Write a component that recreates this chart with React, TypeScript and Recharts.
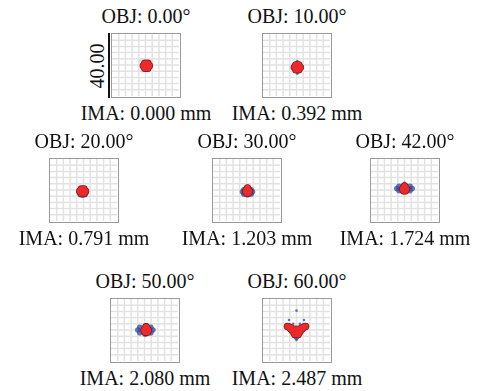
import { ReferenceLine, Scatter, ScatterChart, XAxis, YAxis } from 'recharts'

// field labels
const fieldAngles = ['0.00', '10.00', '20.00', '30.00', '42.00', '50.00', '60.00']
const imageHeights = ['0.000', '0.392', '0.791', '1.203', '1.724', '2.080', '2.487']
const scaleBar = '40.00'

// grid ticks in microns (box is 40 um wide)
const gridTicks = [-16, -12, -8, -4, 0, 4, 8, 12, 16]

// ray intercepts, [x, y] in microns
const redRays = [
  [[0.5, -0.5], [2.3, -0.5], [1.4, 1.1], [-0.4, 1.1], [-1.3, -0.5], [-0.4, -2.1], [1.4, -2.1]],
  [[0.5, -1.5], [2.3, -1.5], [1.4, 0.1], [-0.4, 0.1], [-1.3, -1.5], [-0.4, -3.1], [1.4, -3.1]],
  [[-0.5, -0.8], [1.2, -0.8], [0.3, 0.7], [-1.3, 0.7], [-2.2, -0.8], [-1.3, -2.3], [0.3, -2.3]],
  [[0.6, -1], [1.7, -1], [1.2, 0], [0, 0], [-0.5, -1], [0, -2], [1.2, -2], [0.6, 1.4]],
  [[0, 0.5], [1.1, 0.5], [0.6, 1.5], [-0.6, 1.5], [-1.1, 0.5], [-0.6, -0.5], [0.6, -0.5], [0, 2.6]],
  [[1, -0.3], [2.3, -0.3], [1.7, 0.9], [0.3, 0.9], [-0.3, -0.3], [0.3, -1.5], [1.7, -1.5], [1, 2.1]],
  [
    [0, -1.2], [2, -1.2], [1, 0.5], [-1, 0.5], [-2, -1.2], [-1, -2.9], [1, -2.9],
    [-5.4, 2.3], [-4.4, 1.9], [-3.4, 1.4], [-2.6, 0.6], [-3.4, 0.6],
    [5.4, 2.3], [4.4, 1.9], [3.4, 1.4], [2.6, 0.6], [3.4, 0.6],
  ],
]

const blueRays = [
  [],
  [[0.5, -1.5], [2.6, -1.5], [-1.6, -1.5], [0.5, 0.6], [0.5, -3.6]],
  [[-0.5, -1.6], [1.5, -1.6], [-2.5, -1.6], [-0.5, 0.2], [-0.5, -3.3], [0.9, -2.9], [-1.9, -2.9]],
  [[-2.4, -1.2], [3.6, -1.2], [-1.6, 0.2], [2.8, 0.2], [-1.6, -2.6], [2.8, -2.6], [0.6, 0.6], [0.6, -3], [0.6, -1.2]],
  [[-4.6, 1], [4.6, 1], [-3.3, 2.4], [3.3, 2.4], [-3.3, -0.4], [3.3, -0.4], [0, 3], [0, -1], [-1.5, 1], [1.5, 1], [0, 1]],
  [[-4, 0], [5, 0], [0.5, 2.6], [0.5, -2.8], [-2.8, 1.8], [3.8, 1.8], [-2.8, -1.8], [3.8, -1.8], [0.5, 0]],
  [[0, -1.2], [2.4, -1.2], [-2.4, -1.2], [1.2, 0.8], [-1.2, 0.8], [1.2, -3.2], [-1.2, -3.2], [0, -4.6]],
]

const blueSpecks = [
  [[-3, 3], [3.5, 2.5], [-2, -4]],
  [[0.5, 2.6], [0.5, -5.6]],
  [],
  [[0.6, 2.5]],
  [[0, 4.6]],
  [[1, 3.2]],
  [[0, 12.5], [-4.5, 6.5], [4.5, 6.5], [-2, 4], [2, 4], [0, -6.4]],
]

// box top-left positions on the page
const boxes = [
  [111, 33], [262, 33],
  [49, 158], [212, 158], [370, 158],
  [110, 298], [262, 298],
]

const W = 70
const H = 65
const font = '"Liberation Serif", "Times New Roman", serif'

const toPts = (a: number[][]) => a.map(([x, y]) => ({ x, y }))

function dot(r: number, fill: string, opacity = 1) {
  return (p: any) => <circle cx={p.cx} cy={p.cy} r={r} fill={fill} fillOpacity={opacity} />
}

function Spot({ i }: { i: number }) {
  const [left, top] = boxes[i]
  const faint = i === 0
  return (
    <>
      <div
        style={{
          position: 'absolute',
          left: left + W / 2 - 100,
          top: top - 27,
          width: 200,
          textAlign: 'center',
          fontSize: 20,
          lineHeight: '20px',
        }}
      >
        OBJ: {fieldAngles[i]}°
      </div>
      <div
        style={{
          position: 'absolute',
          left,
          top,
          width: W,
          height: H,
          boxSizing: 'border-box',
          border: '1.5px solid #9a9a9a',
          background: '#fff',
        }}
      >
        <ScatterChart
          width={W - 3}
          height={H - 3}
          margin={{ top: 0, right: 0, bottom: 0, left: 0 }}
        >
          <XAxis type="number" dataKey="x" domain={[-20, 20]} hide />
          <YAxis type="number" dataKey="y" domain={[-20, 20]} hide />
          {gridTicks.map((t) => (
            <ReferenceLine key={'x' + t} x={t} stroke="#e2e2e2" strokeWidth={1.5} />
          ))}
          {gridTicks.map((t) => (
            <ReferenceLine key={'y' + t} y={t} stroke="#e2e2e2" strokeWidth={1.5} />
          ))}
          <Scatter
            data={toPts(blueSpecks[i])}
            isAnimationActive={false}
            shape={dot(faint ? 1.2 : 1.3, faint ? '#f0b0b8' : '#3a55b8', faint ? 0.6 : 0.8)}
          />
          <Scatter
            data={toPts(blueRays[i])}
            isAnimationActive={false}
            shape={dot(2.8, '#2d47a6', 0.75)}
          />
          <Scatter
            data={toPts(redRays[i])}
            isAnimationActive={false}
            shape={dot(3.7, '#6e1a1a')}
          />
          <Scatter
            data={toPts(redRays[i])}
            isAnimationActive={false}
            shape={dot(3, '#ec2a2a')}
          />
        </ScatterChart>
      </div>
      <div
        style={{
          position: 'absolute',
          left: left + W / 2 - 100,
          top: top + H + 5,
          width: 200,
          textAlign: 'center',
          fontSize: 20,
          lineHeight: '20px',
        }}
      >
        IMA: {imageHeights[i]} mm
      </div>
    </>
  )
}

export default function App() {
  const [l0, t0] = boxes[0]
  return (
    <div
      style={{
        position: 'fixed',
        left: 0,
        top: 0,
        width: 480,
        height: 391,
        background: '#fff',
        color: '#111',
        fontFamily: font,
      }}
    >
      {boxes.map((_, i) => (
        <Spot key={i} i={i} />
      ))}
      <div
        style={{
          position: 'absolute',
          left: l0 - 3,
          top: t0,
          width: 1.5,
          height: H,
          background: '#111',
        }}
      />
      <div
        style={{
          position: 'absolute',
          left: l0 - 14 - 30,
          top: t0 + H / 2 - 10,
          width: 60,
          textAlign: 'center',
          fontSize: 20,
          lineHeight: '20px',
          transform: 'rotate(-90deg)',
        }}
      >
        {scaleBar}
      </div>
    </div>
  )
}
